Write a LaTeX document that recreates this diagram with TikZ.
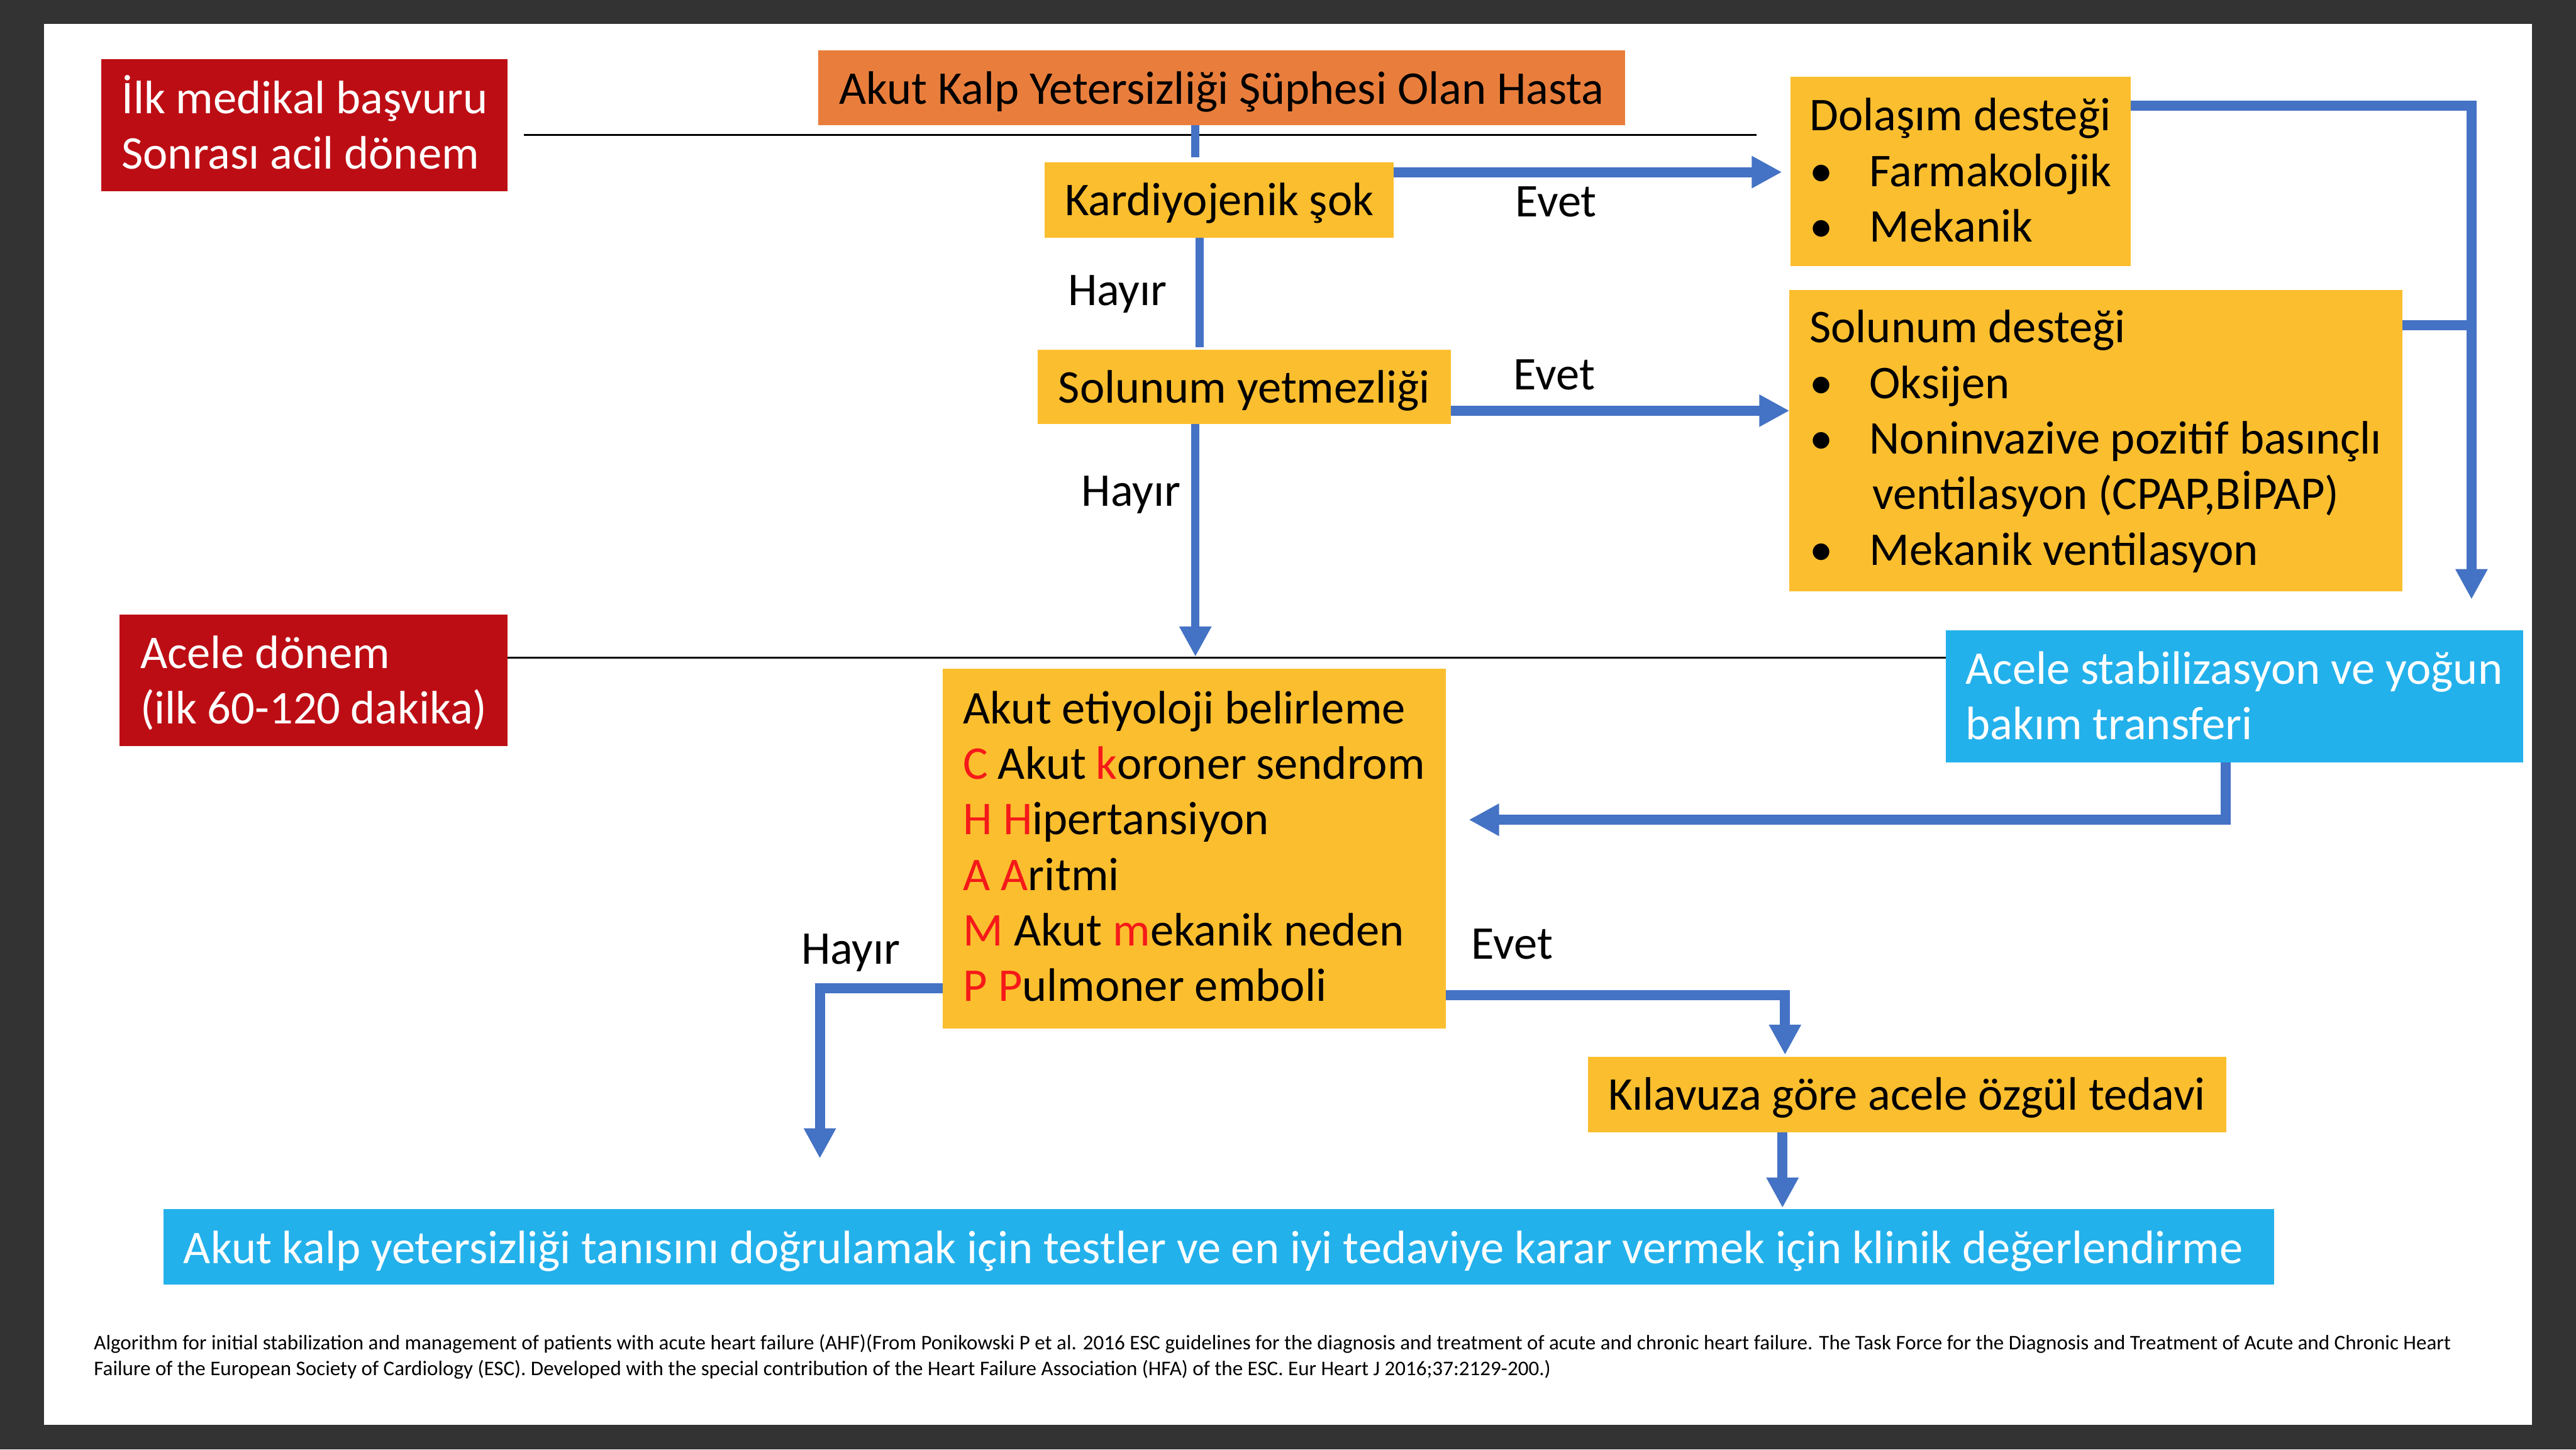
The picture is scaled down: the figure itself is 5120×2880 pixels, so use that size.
\documentclass[tikz,border=0pt]{standalone}
\usepackage{fontspec}
\setmainfont{Carlito}
\usetikzlibrary{arrows.meta}
\definecolor{darkbg}{RGB}{51,51,51}
\definecolor{redbox}{RGB}{189,13,20}
\definecolor{orangebox}{RGB}{233,126,60}
\definecolor{yellowbox}{RGB}{251,190,46}
\definecolor{bluebox}{RGB}{35,177,236}
\definecolor{arrowblue}{RGB}{68,114,196}
\definecolor{letterred}{RGB}{245,25,25}
\newcommand{\rl}[1]{\textcolor{letterred}{#1}}
\newcommand{\bul}{\makebox[1.19cm][l]{•}}
\begin{document}
\begin{tikzpicture}[x=0.01cm,y=-0.01cm,
  box/.style={inner xsep=0.4cm, inner ysep=0pt, outer sep=0pt, anchor=center,
    font=\fontsize{26.5}{31.4}\selectfont},
  redb/.style={box, fill=redbox, text=white},
  yelb/.style={box, fill=yellowbox, text=black},
  blub/.style={box, fill=bluebox, text=white},
  lbl/.style={inner sep=0pt, anchor=base west, font=\fontsize{26.5}{31.4}\selectfont},
  arr/.style={draw=arrowblue, line width=0.2cm, -{Triangle[length=0.6cm,width=0.6cm]}},
  thinln/.style={draw=arrowblue, line width=0.16cm},
  ln/.style={draw=arrowblue, line width=0.2cm},
  sep/.style={draw=black, line width=0.03cm}]
\useasboundingbox (0,0) rectangle (5120,2880);
\fill[darkbg] (0,0) rectangle (5120,2880);
\fill[white] (88,48) rectangle (5033,2831);

% boxes
\node[redb, minimum width=8.07cm, minimum height=2.62cm, text width=7.27cm, align=flush left,
  text height=0pt, text depth=0.48cm] (red1) at (605.5,249)
  {İlk medikal başvuru\\Sonrası acil dönem};
\node[redb, minimum width=7.71cm, minimum height=2.61cm, text width=6.89cm, align=flush left,
  text height=0pt, text depth=0.47cm] (red2) at (623.5,1351.5)
  {Acele dönem\\(ilk 60-120 dakika)};
\node[box, fill=orangebox, minimum width=16.02cm, minimum height=1.49cm,
  text height=0.65cm, text depth=0pt] (title) at (2428,174.5)
  {Akut Kalp Yetersizliği Şüphesi Olan Hasta};
\node[yelb, minimum width=6.91cm, minimum height=1.5cm,
  text height=0.62cm, text depth=0pt] (kard) at (2423.5,397) {Kardiyojenik şok};
\node[yelb, minimum width=8.2cm, minimum height=1.47cm,
  text height=0.63cm, text depth=0pt] (solyet) at (2473,768.5) {Solunum yetmezliği};
\node[yelb, inner xsep=0.38cm, minimum width=6.76cm, minimum height=3.76cm, text width=6.0cm, align=flush left,
  text height=0pt, text depth=1.62cm] (dol) at (3897,341)
  {Dolaşım desteği\\\bul Farmakolojik\\\bul Mekanik};
\node[yelb, minimum width=12.17cm, minimum height=5.99cm, text width=11.37cm, align=flush left,
  text height=0pt, text depth=3.89cm] (soldes) at (4165.5,875.5)
  {Solunum desteği\\\bul Oksijen\\\bul Noninvazive pozitif basınçlı\\\hspace*{1.25cm}ventilasyon (CPAP,BİPAP)\\\bul Mekanik ventilasyon};
\node[yelb, inner xsep=0.41cm, minimum width=9.99cm, minimum height=7.15cm, text width=9.17cm, align=flush left,
  text height=0pt, text depth=4.97cm] (akut) at (2373.5,1686.5)
  {Akut etiyoloji belirleme\\
   \rl{C} Akut \rl{k}oroner sendrom\\
   \rl{H} \rl{H}ipertansiyon\\
   \rl{A} \rl{A}ritmi\\
   \rl{M} Akut \rl{m}ekanik neden\\
   \rl{P} \rl{P}ulmoner emboli};
\node[blub, inner xsep=0.39cm, minimum width=11.47cm, minimum height=2.63cm, text width=10.69cm, align=flush left,
  text height=0pt, text depth=0.49cm] (acele) at (4441.5,1383.5)
  {Acele stabilizasyon ve yoğun\\bakım transferi};
\node[yelb, minimum width=12.67cm, minimum height=1.5cm,
  text height=0.62cm, text depth=0pt] (kil) at (3790.5,2175) {Kılavuza göre acele özgül tedavi};
\node[blub, minimum width=41.93cm, minimum height=1.49cm, text width=41.13cm, align=flush left,
  text height=0.65cm, text depth=0pt] (bottom) at (2422.5,2477.5)
  {Akut kalp yetersizliği tanısını doğrulamak için testler ve en iyi tedaviye karar vermek için klinik değerlendirme};

% separator lines
\coordinate (l1) at ([xshift=0.32cm,yshift=-0.19cm]red1.east);
\draw[sep, shorten >=0.67cm] (l1) -- (l1 -| dol.west);
\coordinate (l2) at ([yshift=0.445cm]red2.east);
\draw[sep] (l2) -- (l2 -| acele.west);

% connectors
\coordinate (t1) at ([xshift=-0.52cm]title.south);
\draw[thinln, shorten >=0.1cm] (t1) -- (t1 |- kard.north);
\coordinate (k2) at ([xshift=-0.395cm]kard.south);
\draw[thinln, shorten >=0.05cm] (k2) -- (k2 |- solyet.north);
\coordinate (s3) at ([xshift=-0.97cm]solyet.south);
\draw[arr, line width=0.16cm, shorten >=0.24cm] (s3) -- (s3 |- akut.north);

\coordinate (k1) at ([yshift=-0.2cm]kard.north east);
\draw[arr, shorten >=0.17cm] (k1) -- (k1 -| dol.west);
\coordinate (s2) at ([yshift=0.26cm]solyet.south east);
\draw[arr] (s2) -- (s2 -| soldes.west);

\coordinate (rx) at ([xshift=-1.03cm]acele.north east);
\coordinate (d1) at ([yshift=-0.57cm]dol.north east);
\draw[arr, shorten >=0.61cm] (d1) -| (rx);
\coordinate (s1) at ([yshift=-0.7cm]soldes.north east);
\draw[ln] (s1) -- (s1 -| rx);

\coordinate (ab) at ([xshift=-0.175cm]acele.south);
\coordinate (at) at ([yshift=-3.0cm]akut.north east);
\draw[arr, shorten >=0.46cm] (ab) |- (at);

\coordinate (hb) at ([xshift=-7.925cm]bottom.north);
\draw[arr, shorten >=1.01cm] ([yshift=0.81cm]akut.south west) -| (hb);
\coordinate (kx) at ([xshift=-2.425cm]kil.north);
\draw[arr, shorten >=0.04cm] ([yshift=0.67cm]akut.south east) -| (kx);
\coordinate (kb) at ([xshift=-2.475cm]kil.south);
\draw[arr, shorten >=0.03cm] (kb) -- (kb |- bottom.north);

% labels
\node[lbl] (evet1) at (3011,430) {Evet};
\node[lbl] (hayir1) at (2122,607) {Hayır};
\node[lbl] (evet2) at (3008,774) {Evet};
\node[lbl] (hayir2) at (2149,1006) {Hayır};
\node[lbl] (hayir3) at (1592,1915) {Hayır};
\node[lbl] (evet3) at (2924,1906) {Evet};

% caption
\node[inner sep=0pt, anchor=base west, font=\fontsize{11.75}{14.5}\selectfont] (cap1) at (186,2682)
  {Algorithm for initial stabilization and management of patients with acute heart failure (AHF)(From Ponikowski P et al. 2016 ESC guidelines for the diagnosis and treatment of acute and chronic heart failure. The Task Force for the Diagnosis and Treatment of Acute and Chronic Heart};
\node[inner sep=0pt, anchor=base west, font=\fontsize{11.75}{14.5}\selectfont] (cap2) at (186,2733)
  {Failure of the European Society of Cardiology (ESC). Developed with the special contribution of the Heart Failure Association (HFA) of the ESC. Eur Heart J 2016;37:2129-200.)};
\end{tikzpicture}
\end{document}
